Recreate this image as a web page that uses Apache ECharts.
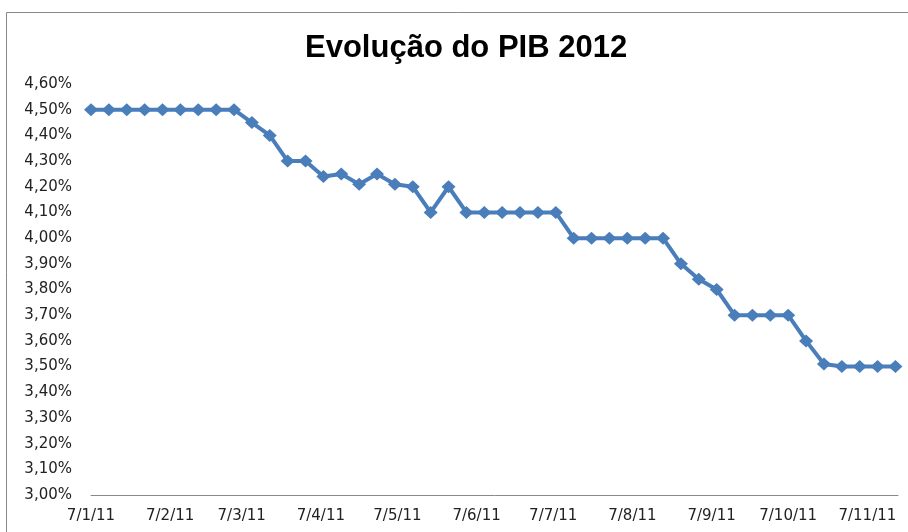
<!DOCTYPE html>
<html>
<head>
<meta charset="utf-8">
<script src="https://cdn.jsdelivr.net/npm/echarts@6/dist/echarts.min.js"></script>
<style>
  html, body { margin: 0; padding: 0; background: #fff; }
  #main { width: 908px; height: 532px; }
</style>
</head>
<body>
<div id="main"></div>
<script>
// datas semanais do boletim
var dates = [
  '2011-01-07', '2011-01-14', '2011-01-21', '2011-01-28',
  '2011-02-04', '2011-02-11', '2011-02-18', '2011-02-25',
  '2011-03-04', '2011-03-11', '2011-03-18', '2011-03-25',
  '2011-04-01', '2011-04-08', '2011-04-15', '2011-04-22', '2011-04-29',
  '2011-05-06', '2011-05-13', '2011-05-20', '2011-05-27',
  '2011-06-03', '2011-06-10', '2011-06-17', '2011-06-24',
  '2011-07-01', '2011-07-08', '2011-07-15', '2011-07-22', '2011-07-29',
  '2011-08-05', '2011-08-12', '2011-08-19', '2011-08-26',
  '2011-09-02', '2011-09-09', '2011-09-16', '2011-09-23', '2011-09-30',
  '2011-10-07', '2011-10-14', '2011-10-21', '2011-10-28',
  '2011-11-04', '2011-11-11', '2011-11-18'
];
// expectativa do PIB (%)
var pib = [
  4.50, 4.50, 4.50, 4.50, 4.50, 4.50, 4.50, 4.50, 4.50,
  4.45, 4.40, 4.30, 4.30, 4.24, 4.25, 4.21, 4.25, 4.21, 4.20,
  4.10, 4.20, 4.10, 4.10, 4.10, 4.10, 4.10, 4.10,
  4.00, 4.00, 4.00, 4.00, 4.00, 4.00,
  3.90, 3.84, 3.80, 3.70, 3.70, 3.70, 3.70,
  3.60, 3.51, 3.50, 3.50, 3.50, 3.50
];
// rótulos do eixo x
var tickDates = [
  '2011-01-07', '2011-02-07', '2011-03-07', '2011-04-07', '2011-05-07', '2011-06-07',
  '2011-07-07', '2011-08-07', '2011-09-07', '2011-10-07', '2011-11-07'
];
var tickLabels = [
  '7/1/11', '7/2/11', '7/3/11', '7/4/11', '7/5/11', '7/6/11',
  '7/7/11', '7/8/11', '7/9/11', '7/10/11', '7/11/11'
];

var t0 = Date.parse(dates[0]);
function dia(s) { return Math.round((Date.parse(s) - t0) / 86400000); }

var tickDays = tickDates.map(dia);
var serie = dates.map(function (d, i) { return [dia(d), pib[i]]; });

var myChart = echarts.init(document.getElementById('main'));
myChart.setOption({
  animation: false,
  title: {
    text: 'Evolução do PIB 2012',
    left: 300,
    top: 28,
    textStyle: { fontFamily: 'Liberation Sans', fontWeight: 'bold', fontSize: 31, color: '#000' }
  },
  graphic: [{
    type: 'rect',
    shape: { x: 6.5, y: 12.5, width: 1000, height: 1000 },
    style: { fill: 'none', stroke: '#888', lineWidth: 1 }
  }],
  grid: { left: 91, right: 10, top: 84, bottom: 37 },
  xAxis: {
    type: 'value',
    min: 0,
    max: 316,
    splitLine: { show: false },
    axisLine: { lineStyle: { color: '#888', width: 1 } },
    axisTick: { show: false },
    axisLabel: {
      customValues: tickDays,
      margin: 14,
      fontFamily: 'DejaVu Sans',
      fontSize: 15,
      color: '#222',
      formatter: function (v) {
        var i = tickDays.indexOf(v);
        return i >= 0 ? tickLabels[i] : '';
      }
    }
  },
  yAxis: {
    type: 'value',
    min: 3.0,
    max: 4.6,
    interval: 0.1,
    splitLine: { show: false },
    axisLine: { show: false },
    axisTick: { show: false },
    axisLabel: {
      margin: 19,
      fontFamily: 'DejaVu Sans',
      fontSize: 15,
      color: '#222',
      formatter: function (v) { return v.toFixed(2).replace('.', ',') + '%'; }
    }
  },
  series: [{
    type: 'line',
    data: serie,
    symbol: 'diamond',
    symbolSize: [14, 13],
    lineStyle: { color: '#4A7EBB', width: 4 },
    itemStyle: { color: '#4A7EBB' }
  }]
});
</script>
</body>
</html>
